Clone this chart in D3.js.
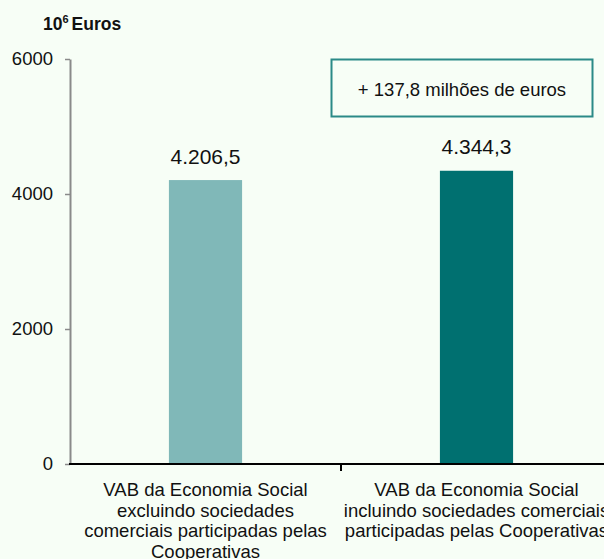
<!DOCTYPE html>
<html>
<head>
<meta charset="utf-8">
<script src="https://cdn.jsdelivr.net/npm/d3@7"></script>
<style>
  html, body { margin: 0; padding: 0; background: #f7fef6; }
  svg { display: block; }
  text { font-family: Arial, "Liberation Sans", sans-serif; fill: #111; }
</style>
</head>
<body>
<svg id="chart" width="604" height="559"></svg>
<script>
const categories = ["excluindo", "incluindo"];
const categoryLines = [
  ["VAB da Economia Social", "excluindo sociedades", "comerciais participadas pelas", "Cooperativas"],
  ["VAB da Economia Social", "incluindo sociedades comerciais", "participadas pelas Cooperativas"]
];
const values = [4206.5, 4344.3];
const valueLabels = ["4.206,5", "4.344,3"];
const yTicks = [0, 2000, 4000, 6000];
const barColors = ["#80b8b8", "#007070"];
const annotation = "+ 137,8 milhões de euros";

const svg = d3.select("#chart");
svg.append("rect").attr("width", 604).attr("height", 559).attr("fill", "#f7fef6");

const x = d3.scaleBand().domain(categories).range([70, 612]).padding(0);
const y = d3.scaleLinear().domain([0, 6000]).range([464, 59]);
const barW = x.bandwidth() * 0.27;

// Title
const title = svg.append("text").attr("x", 43).attr("y", 30)
  .style("font-weight", "bold").style("font-size", "17.5px");
title.append("tspan").text("10");
title.append("tspan").attr("dy", -7).style("font-size", "11px").text("6");
title.append("tspan").attr("dy", 7).attr("dx", 3).text("Euros");

// Y axis
const yAxis = svg.append("g").attr("transform", "translate(70,0)")
  .call(d3.axisLeft(y).tickValues(yTicks).tickFormat(d3.format("d")).tickSize(5).tickSizeOuter(0).tickPadding(12));
yAxis.select(".domain").attr("stroke", "#8a8a8a").attr("stroke-width", 2);
yAxis.selectAll(".tick line").attr("stroke", "#8a8a8a").attr("stroke-width", 1.5);
yAxis.selectAll(".tick text").style("font-size", "18.5px").attr("fill", "#111")
  .style("font-family", "Arial, 'Liberation Sans', sans-serif");

// Bars
svg.append("g").selectAll("rect").data(values).join("rect")
  .attr("x", (d, i) => x(categories[i]) + x.bandwidth() / 2 - barW / 2)
  .attr("width", barW)
  .attr("y", d => y(d))
  .attr("height", d => y(0) - y(d))
  .attr("fill", (d, i) => barColors[i]);

// Value labels
svg.append("g").selectAll("text").data(values).join("text")
  .attr("x", (d, i) => x(categories[i]) + x.bandwidth() / 2)
  .attr("y", d => y(d) - 16.5)
  .attr("text-anchor", "middle")
  .style("font-size", "21px")
  .text((d, i) => valueLabels[i]);

// X axis
svg.append("line").attr("x1", 69).attr("x2", 612).attr("y1", y(0)).attr("y2", y(0))
  .attr("stroke", "#000").attr("stroke-width", 2);
svg.append("g").selectAll("line").data(categories.slice(1)).join("line")
  .attr("x1", d => x(d)).attr("x2", d => x(d))
  .attr("y1", y(0)).attr("y2", y(0) + 7)
  .attr("stroke", "#000").attr("stroke-width", 2);

// Category labels
categoryLines.forEach((lines, i) => {
  const t = svg.append("text")
    .attr("x", x(categories[i]) + x.bandwidth() / 2)
    .attr("y", 496)
    .attr("text-anchor", "middle")
    .style("font-size", "18.5px");
  lines.forEach((l, j) => {
    t.append("tspan").attr("x", x(categories[i]) + x.bandwidth() / 2)
      .attr("dy", j === 0 ? 0 : 20.5).text(l);
  });
});

// Annotation box
svg.append("rect").attr("x", 331.5).attr("y", 59.5).attr("width", 261).attr("height", 57)
  .attr("fill", "none").attr("stroke", "#2b8a87").attr("stroke-width", 2);
svg.append("text").attr("x", 462).attr("y", 95.5).attr("text-anchor", "middle")
  .style("font-size", "18.5px").text(annotation);
</script>
</body>
</html>
